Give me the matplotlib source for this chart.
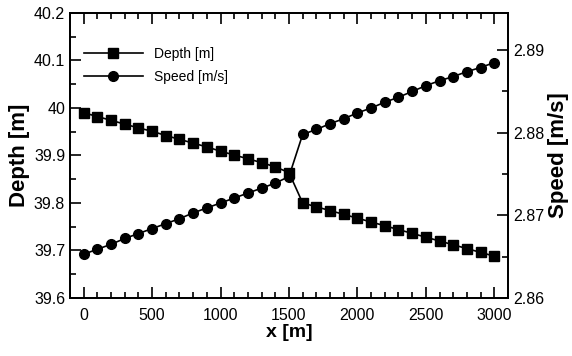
import matplotlib
matplotlib.use('Agg')
import matplotlib.pyplot as plt
from matplotlib.ticker import MultipleLocator

x = [0, 100, 200, 300, 400, 500, 600, 700, 800, 900, 1000, 1100, 1200, 1300, 1400, 1500,
     1600, 1700, 1800, 1900, 2000, 2100, 2200, 2300, 2400, 2500, 2600, 2700, 2800, 2900, 3000]
depth = [39.990, 39.982, 39.974, 39.966, 39.958, 39.951, 39.942, 39.934, 39.926, 39.918,
         39.909, 39.901, 39.893, 39.885, 39.876, 39.864,
         39.800, 39.792, 39.784, 39.776, 39.768, 39.760, 39.752, 39.744, 39.736, 39.728,
         39.720, 39.712, 39.704, 39.696, 39.688]
speed = [2.8653, 2.8659, 2.8665, 2.8672, 2.8678, 2.8684, 2.8690, 2.8696, 2.8703, 2.8709,
         2.8715, 2.8721, 2.8727, 2.8733, 2.8739, 2.8747,
         2.8798, 2.8804, 2.8811, 2.8817, 2.8824, 2.8830, 2.8837, 2.8843, 2.8850, 2.8857,
         2.8863, 2.8868, 2.8874, 2.8879, 2.8885]

tick_font = ['Liberation Sans Narrow', 'Liberation Sans', 'DejaVu Sans']
plt.rcParams['font.family'] = tick_font

fig = plt.figure(figsize=(5.72, 3.56), dpi=100)
ax = fig.add_axes([0.1224, 0.163, 0.7656, 0.8005])
ax2 = ax.twinx()

l1, = ax.plot(x, depth, '-s', color='black', lw=1.2, ms=7)
l2, = ax2.plot(x, speed, '-o', color='black', lw=1.2, ms=7)

ax.set_xlim(-100, 3100)
ax.set_ylim(39.6, 40.2)
ax2.set_ylim(2.86, 2.8945)

ax.xaxis.set_major_locator(MultipleLocator(500))
ax.xaxis.set_minor_locator(MultipleLocator(100))
ax.yaxis.set_major_locator(MultipleLocator(0.1))
ax.yaxis.set_minor_locator(MultipleLocator(0.05))
ax2.yaxis.set_major_locator(MultipleLocator(0.01))
ax2.yaxis.set_minor_locator(MultipleLocator(0.005))
ax.set_yticks([39.6, 39.7, 39.8, 39.9, 40.0, 40.1, 40.2])
ax.set_yticklabels(['39.6', '39.7', '39.8', '39.9', '40', '40.1', '40.2'])

ax.tick_params(which='both', direction='in', top=True, labelsize=11.5, width=1.2)
ax.tick_params(which='major', length=8)
ax.tick_params(which='minor', length=4.5)
ax.tick_params(axis='x', pad=7)
ax2.tick_params(which='both', direction='in', labelsize=11.5, width=1.2)
ax2.tick_params(which='major', length=8)
ax2.tick_params(which='minor', length=4.5)

for a in (ax, ax2):
    for s in a.spines.values():
        s.set_linewidth(1.3)

lab = dict(fontweight='bold', family=['Liberation Sans', 'DejaVu Sans'])
ax.set_xlabel('x [m]', fontsize=14, labelpad=1, **lab)
ax.set_ylabel('Depth [m]', fontsize=16, labelpad=3, **lab)
ax2.set_ylabel('Speed [m/s]', fontsize=16, labelpad=3, **lab)

ax.legend([l1, l2], ['Depth [m]', 'Speed [m/s]'], loc='upper left', frameon=False,
          handlelength=4.2, prop={'size': 10, 'family': tick_font},
          bbox_to_anchor=(0.02, 0.9), labelspacing=0.65, borderaxespad=0)

fig.savefig('out.png', dpi=100)
